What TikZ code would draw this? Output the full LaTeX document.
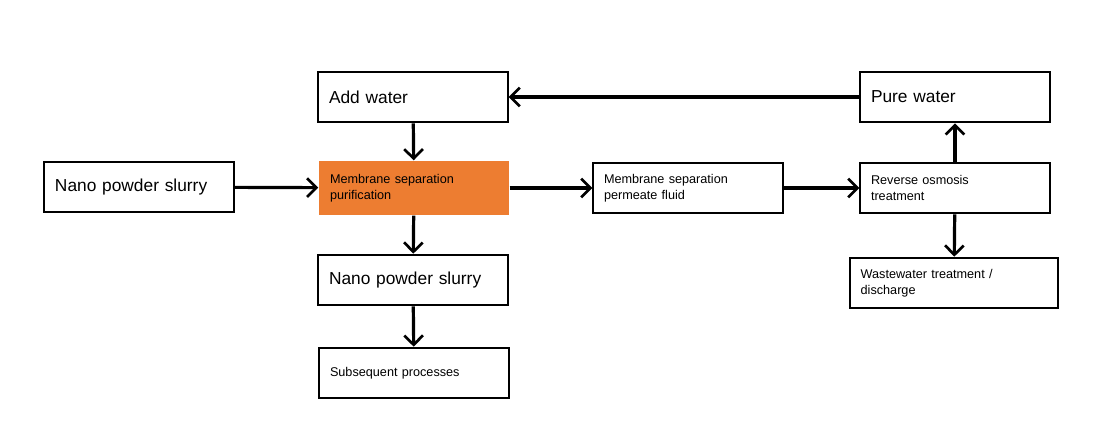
\documentclass[tikz,border=0pt]{standalone}
\usepackage{fontspec}
\setmainfont{Liberation Sans}
\usetikzlibrary{arrows.meta}
\definecolor{boxorange}{RGB}{237,125,49}
\begin{document}
\begin{tikzpicture}[x=0.75pt,y=-0.75pt,
	stepbox/.style={draw=black, line width=1.5pt, inner xsep=8pt, minimum height=38pt, text width=#1, align=left},
	stepbox/.default=126pt,
	bigtext/.style={font=\fontsize{13}{15}\selectfont},
	smalltext/.style={font=\fontsize{9.5}{12}\selectfont},
	flow/.style={-{Straight Barb[length=7pt,width=14pt,line width=2pt]}, line width=2.4pt}]
	% Parameters
	\useasboundingbox (0,0) rectangle (1108,436);
	
	%boxes
	\node[stepbox, bigtext] (add) at (413,97) {Add water};
	\node[stepbox, bigtext] (pure) at (955,97) {Pure water};
	\node[stepbox, bigtext] (slurryin) at (139,187) {Nano powder slurry};
	\node[stepbox, smalltext, draw=none, fill=boxorange, minimum height=40pt] (purify) at (414,188) {Membrane separation\\purification};
	\node[stepbox, smalltext] (permeate) at (688,188) {Membrane separation\\permeate fluid};
	\node[stepbox, smalltext] (ro) at (955,188) {Reverse osmosis\\treatment};
	\node[stepbox, bigtext] (slurryout) at (413,280) {Nano powder slurry};
	\node[stepbox=140pt, smalltext] (waste) at (954,283) {Wastewater treatment /\\discharge};
	\node[stepbox, smalltext] (next) at (414,373) {Subsequent processes};
	
	%arrows
	\draw[flow] (pure) -- (add);
	\draw[flow] (add) -- (purify);
	\draw[flow] (slurryin) -- (purify);
	\draw[flow] (purify) -- (permeate);
	\draw[flow] (permeate) -- (ro);
	\draw[flow] (ro) -- (pure);
	\draw[flow] (ro) -- (waste);
	\draw[flow] (purify) -- (slurryout);
	\draw[flow] (slurryout) -- (next);
\end{tikzpicture}
\end{document}
